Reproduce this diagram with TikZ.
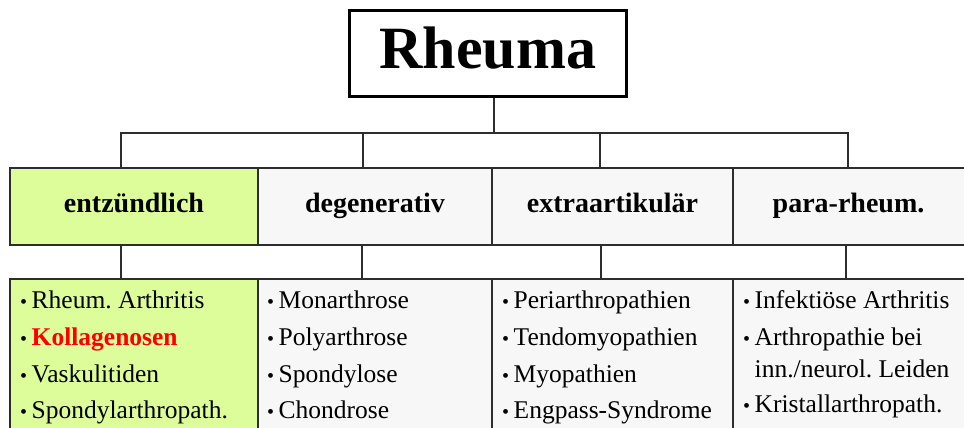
\documentclass[tikz,border=0pt]{standalone}
\usepackage{fontspec}
\setmainfont{Liberation Serif}
\definecolor{limefill}{RGB}{221,253,155}
\definecolor{greyfill}{RGB}{247,247,247}
\definecolor{linecol}{RGB}{45,45,45}
\newcommand\bu{{\fontsize{20}{20}\selectfont\raisebox{0pt}{•}}\hspace{4.5pt}}
\begin{document}
\frenchspacing
\begin{tikzpicture}[x=1pt,y=-1pt,
  rootbox/.style={draw=black, line width=3pt, fill=white, minimum width=277.5pt, minimum height=85pt,
    font=\bfseries\fontsize{60}{60}\selectfont, text height=40pt, text depth=9pt, inner sep=0pt},
  hbox/.style={draw=linecol, line width=1.3pt, minimum height=77pt,
    font=\bfseries\fontsize{28}{28}\selectfont, text height=17pt, text depth=6pt, inner sep=0pt},
  lbox/.style={draw=linecol, line width=1.3pt, minimum height=170pt, inner sep=0pt},
  item/.style={anchor=base west, inner sep=0pt, font=\fontsize{25.5}{25.5}\selectfont},
  conn/.style={draw=linecol, line width=1.1pt}
]
\useasboundingbox (0,0) rectangle (964,428);
\clip (0,0) rectangle (964,428);
\fill[white] (0,0) rectangle (964,428);

% root
\node[rootbox] (root) at (487.75,53.5) {Rheuma};

% headers
\node[hbox, fill=limefill, minimum width=248pt] (h1) at (134,206.5) {entzündlich};
\node[hbox, fill=greyfill, minimum width=234pt] (h2) at (375,206.5) {degenerativ};
\node[hbox, fill=greyfill, minimum width=241pt] (h3) at (612.5,206.5) {extraartikulär};
\node[hbox, fill=greyfill, minimum width=250pt] (h4) at (858,206.5) {};
\node[font=\bfseries\fontsize{28}{28}\selectfont, anchor=base, inner sep=0pt] (h4t) at (848.5,212) {para-rheum.};

% list boxes
\node[lbox, fill=limefill, minimum width=248pt] (l1) at (134,364) {};
\node[lbox, fill=greyfill, minimum width=234pt] (l2) at (375,364) {};
\node[lbox, fill=greyfill, minimum width=241pt] (l3) at (612.5,364) {};
\node[lbox, fill=greyfill, minimum width=250pt] (l4) at (858,364) {};

% connectors level 1
\coordinate (j0) at (494,133);
\coordinate (d1) at (121,133);
\coordinate (d2) at (363,133);
\coordinate (d3) at (600,133);
\coordinate (d4) at (848,133);
\draw[conn] (j0 |- root.south) -- (j0);
\draw[conn] (d1 |- h1.north) -- (d1) -- (d4) -- (d4 |- h4.north);
\draw[conn] (d2) -- (d2 |- h2.north);
\draw[conn] (d3) -- (d3 |- h3.north);

% connectors level 2
\coordinate (e1) at (121,262);
\coordinate (e2) at (362,262);
\coordinate (e3) at (601,262);
\coordinate (e4) at (846,262);
\draw[conn] (e1 |- h1.south) -- (e1 |- l1.north);
\draw[conn] (e2 |- h2.south) -- (e2 |- l2.north);
\draw[conn] (e3 |- h3.south) -- (e3 |- l3.north);
\draw[conn] (e4 |- h4.south) -- (e4 |- l4.north);

% items column 1
\node[item] (a1) at (20,308) {\bu Rheum. Arthritis};
\node[item] (a2) at (20,345) {\bu\textcolor{red}{\bfseries Kollagenosen}};
\node[item] (a3) at (20,382) {\bu Vaskulitiden};
\node[item] (a4) at (20,418) {\bu Spondylarthropath.};
% column 2
\node[item] (b1) at (267,308) {\bu Monarthrose};
\node[item] (b2) at (267,345) {\bu Polyarthrose};
\node[item] (b3) at (267,382) {\bu Spondylose};
\node[item] (b4) at (267,418) {\bu Chondrose};
% column 3
\node[item] (c1) at (502,308) {\bu Periarthropathien};
\node[item] (c2) at (502,345) {\bu Tendomyopathien};
\node[item] (c3) at (502,382) {\bu Myopathien};
\node[item] (c4) at (502,418) {\bu Engpass-Syndrome};
% column 4
\node[item] (f1) at (743,308) {\bu Infektiöse Arthritis};
\node[item] (f2) at (743,345) {\bu Arthropathie bei};
\node[item] (f3) at (743,377) {\phantom{\bu}inn./neurol. Leiden};
\node[item] (f4) at (743,412) {\bu Kristallarthropath.};
\end{tikzpicture}
\end{document}
